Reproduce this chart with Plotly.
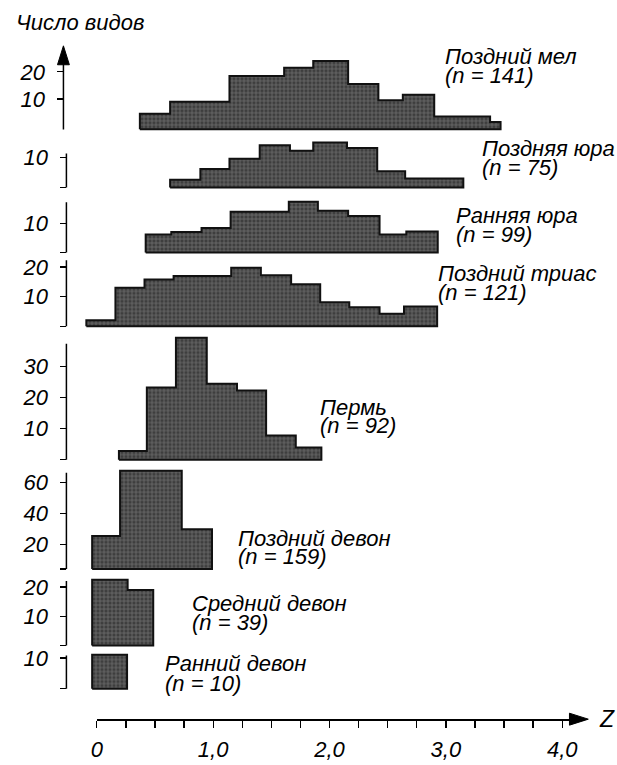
import plotly.graph_objects as go

# ---------------- data ----------------
period_names = ["Поздний мел", "Поздняя юра", "Ранняя юра", "Поздний триас",
                "Пермь", "Поздний девон", "Средний девон", "Ранний девон"]
period_n = [141, 75, 99, 121, 92, 159, 39, 10]

late_cretaceous_edges = [0.37, 0.63, 1.14, 1.61, 1.86, 2.16, 2.42, 2.63, 2.90, 3.38, 3.47]
late_cretaceous_counts = [4.5, 9.0, 18.5, 21.5, 24.0, 15.5, 9.5, 11.5, 3.5, 1.5]

late_jurassic_edges = [0.63, 0.89, 1.14, 1.40, 1.66, 1.86, 2.15, 2.41, 2.65, 3.15]
late_jurassic_counts = [1.8, 5.8, 9.5, 14.5, 12.5, 15.5, 13.5, 5.0, 2.3]

early_jurassic_edges = [0.42, 0.64, 0.90, 1.15, 1.65, 1.90, 2.16, 2.43, 2.66, 2.93]
early_jurassic_counts = [6.2, 7.1, 8.5, 14.1, 17.6, 14.5, 12.6, 6.2, 7.3]

late_triassic_edges = [-0.09, 0.16, 0.41, 0.66, 1.155, 1.41, 1.67, 1.92, 2.17, 2.43, 2.64, 2.925]
late_triassic_counts = [2.0, 13.0, 15.8, 17.0, 19.8, 17.2, 14.2, 8.1, 6.4, 4.2, 6.7]

permian_edges = [0.19, 0.43, 0.68, 0.945, 1.205, 1.455, 1.71, 1.93]
permian_counts = [2.8, 23.2, 39.2, 24.4, 22.3, 7.8, 3.9]

late_devonian_edges = [-0.04, 0.20, 0.73, 0.99]
late_devonian_counts = [25.5, 67.5, 30.0]

middle_devonian_edges = [-0.04, 0.265, 0.485]
middle_devonian_counts = [22.5, 19.0]

early_devonian_edges = [-0.04, 0.26]
early_devonian_counts = [11.0]

y_tick_values = [[10, 20], [10], [10], [10, 20], [10, 20, 30], [20, 40, 60], [10, 20], [10]]

x_tick_values = [0, 0.25, 0.5, 0.75, 1.0, 1.25, 1.5, 1.75, 2.0,
                 2.25, 2.5, 2.75, 3.0, 3.25, 3.5, 3.75, 4.0]
x_tick_labels = ["0", "", "", "", "1,0", "", "", "", "2,0",
                 "", "", "", "3,0", "", "", "", "4,0"]

y_title = "Число видов"
x_title = "Z"

all_edges = [late_cretaceous_edges, late_jurassic_edges, early_jurassic_edges,
             late_triassic_edges, permian_edges, late_devonian_edges,
             middle_devonian_edges, early_devonian_edges]
all_counts = [late_cretaceous_counts, late_jurassic_counts, early_jurassic_counts,
              late_triassic_counts, permian_counts, late_devonian_counts,
              middle_devonian_counts, early_devonian_counts]

# ---------------- layout geometry (page pixels) ----------------
FW, FH = 617, 765
X0_PX, PX_PER_Z = 91.7, 117.5
AXIS_Y_PX = 719
ARROW_END_PX = 588

panels = [
    dict(zero=123.5, scale=2.72, base=-1.2, top=None, ax=58, lab=(441, 54, 73)),
    dict(zero=182.5, scale=2.74, base=-1.0, top=151.0, ax=61, lab=(479, 146, 165)),
    dict(zero=250.5, scale=2.90, base=0.0, top=200.0, ax=61, lab=(452, 213, 232)),
    dict(zero=324.5, scale=2.97, base=0.0, top=258.3, ax=61, lab=(434, 272, 291)),
    dict(zero=458.5, scale=3.12, base=0.0, top=342.0, ax=61, lab=(315, 406, 424)),
    dict(zero=575.0, scale=1.56, base=4.3, top=471.7, ax=61, lab=(232, 538, 556)),
    dict(zero=645.0, scale=2.93, base=0.0, top=580.3, ax=61, lab=(186, 603, 622)),
    dict(zero=688.5, scale=3.10, base=0.0, top=655.0, ax=61, lab=(159, 663, 683)),
]

FONT = "Liberation Sans"
LABEL_SIZE = 22
TICK_SIZE = 22


def px_x(p):
    return p / FW


def px_y(p):
    return 1 - p / FH


fig = go.Figure()
layout = dict(
    width=FW, height=FH,
    margin=dict(l=0, r=0, t=0, b=0),
    paper_bgcolor="white", plot_bgcolor="white",
    showlegend=False,
    font=dict(family=FONT, color="black"),
    xaxis=dict(domain=[0, 1],
               range=[-X0_PX / PX_PER_Z, (FW - X0_PX) / PX_PER_Z],
               visible=False, fixedrange=True),
)
shapes = []
annotations = []

for i, (edges, counts, cfg) in enumerate(zip(all_edges, all_counts, panels)):
    k = i + 1
    yname = "yaxis" if k == 1 else f"yaxis{k}"
    yref = "y" if k == 1 else f"y{k}"
    base = cfg["base"]
    xs = [edges[0]]
    ys = [base]
    for j, c in enumerate(counts):
        xs += [edges[j], edges[j + 1]]
        ys += [c, c]
    xs += [edges[-1], edges[0]]
    ys += [base, base]
    fig.add_trace(go.Scatter(
        x=xs, y=ys, xaxis="x", yaxis=yref, mode="lines",
        line=dict(color="#111111", width=2),
        fill="toself",
        fillcolor="#454545",
        fillpattern=dict(shape="+", bgcolor="#3e3e3e", fgcolor="#a0a0a0",
                         size=4, solidity=0.35),
        hoverinfo="skip",
    ))
    zero, sc = cfg["zero"], cfg["scale"]
    bot_px = zero - base * sc + 3
    top_candidates = [zero - (max(counts) + 3) * sc]
    if cfg["top"] is not None:
        top_candidates.append(cfg["top"] - 3)
    else:
        top_candidates.append(40)
    top_px = min(top_candidates)
    tv = list(y_tick_values[i])
    tt = [f"<i>{v}</i>" for v in tv]
    if k != 1:
        tv = [base] + tv
        tt = [""] + tt
    layout[yname] = dict(
        domain=[px_y(bot_px), px_y(top_px)],
        range=[(zero - bot_px) / sc, (zero - top_px) / sc],
        anchor="free", position=px_x(cfg["ax"]),
        showline=False, showgrid=False, zeroline=False,
        ticks="outside", ticklen=6, tickwidth=1.3, tickcolor="black",
        tickvals=tv, ticktext=tt, ticklabelstandoff=8,
        tickfont=dict(size=TICK_SIZE, family=FONT, color="black"),
        fixedrange=True,
    )
    if cfg["top"] is not None:
        shapes.append(dict(type="line", xref="paper", yref=yref,
                           x0=px_x(cfg["ax"]), x1=px_x(cfg["ax"]),
                           y0=base, y1=(zero - cfg["top"]) / sc,
                           line=dict(color="black", width=1.5)))
    else:
        ax = cfg["ax"]
        shapes.append(dict(type="line", xref="paper", yref="paper",
                           x0=px_x(ax), x1=px_x(ax),
                           y0=px_y(127), y1=px_y(58),
                           line=dict(color="black", width=1.5)))
        shapes.append(dict(type="path", xref="paper", yref="paper",
                           path=f"M {px_x(ax)} {px_y(43)} L {px_x(ax-6)} {px_y(62)} "
                                f"L {px_x(ax+6)} {px_y(62)} Z",
                           fillcolor="black", line=dict(color="black", width=1)))
    lx, ly1, ly2 = cfg["lab"]
    annotations.append(dict(xref="paper", yref="paper", x=px_x(lx), y=px_y(ly1),
                            xanchor="left", yanchor="middle", showarrow=False,
                            text=f"<i>{period_names[i]}</i>",
                            font=dict(size=LABEL_SIZE, family=FONT, color="black")))
    annotations.append(dict(xref="paper", yref="paper", x=px_x(lx), y=px_y(ly2),
                            xanchor="left", yanchor="middle", showarrow=False,
                            text=f"<i>(n = {period_n[i]})</i>",
                            font=dict(size=LABEL_SIZE, family=FONT, color="black")))

layout["xaxis2"] = dict(
    domain=[px_x(X0_PX), px_x(ARROW_END_PX - 4)],
    range=[0, (ARROW_END_PX - 4 - X0_PX) / PX_PER_Z],
    anchor="free", position=px_y(AXIS_Y_PX),
    showline=True, linecolor="black", linewidth=1.5,
    ticks="outside", ticklen=7, tickwidth=1.3, tickcolor="black",
    tickvals=x_tick_values,
    ticktext=[f"<i>{t}</i>" if t else "" for t in x_tick_labels],
    ticklabelstandoff=3,
    tickfont=dict(size=TICK_SIZE, family=FONT, color="black"),
    showgrid=False, zeroline=False, fixedrange=True,
)
layout["yaxis9"] = dict(domain=[0, 0.02], visible=False, fixedrange=True)
fig.add_trace(go.Scatter(x=[], y=[], xaxis="x2", yaxis="y9", hoverinfo="skip"))

shapes.append(dict(type="path", xref="paper", yref="paper",
                   path=f"M {px_x(ARROW_END_PX)} {px_y(AXIS_Y_PX)} "
                        f"L {px_x(ARROW_END_PX-19)} {px_y(AXIS_Y_PX-6)} "
                        f"L {px_x(ARROW_END_PX-19)} {px_y(AXIS_Y_PX+6)} Z",
                   fillcolor="black", line=dict(color="black", width=1)))

annotations.append(dict(xref="paper", yref="paper", x=px_x(8), y=px_y(20),
                        xanchor="left", yanchor="middle", showarrow=False,
                        text=f"<i>{y_title}</i>",
                        font=dict(size=LABEL_SIZE, family=FONT, color="black")))
annotations.append(dict(xref="paper", yref="paper", x=px_x(597), y=px_y(AXIS_Y_PX),
                        xanchor="left", yanchor="middle", showarrow=False,
                        text=f"<i>{x_title}</i>",
                        font=dict(size=23, family=FONT, color="black")))

layout["shapes"] = shapes
layout["annotations"] = annotations
fig.update_layout(**layout)
fig.write_html("out.html",
               config={"displayModeBar": False, "staticPlot": True},
               post_script="document.body.style.margin='0px';"
                           "document.body.style.overflow='hidden';")
